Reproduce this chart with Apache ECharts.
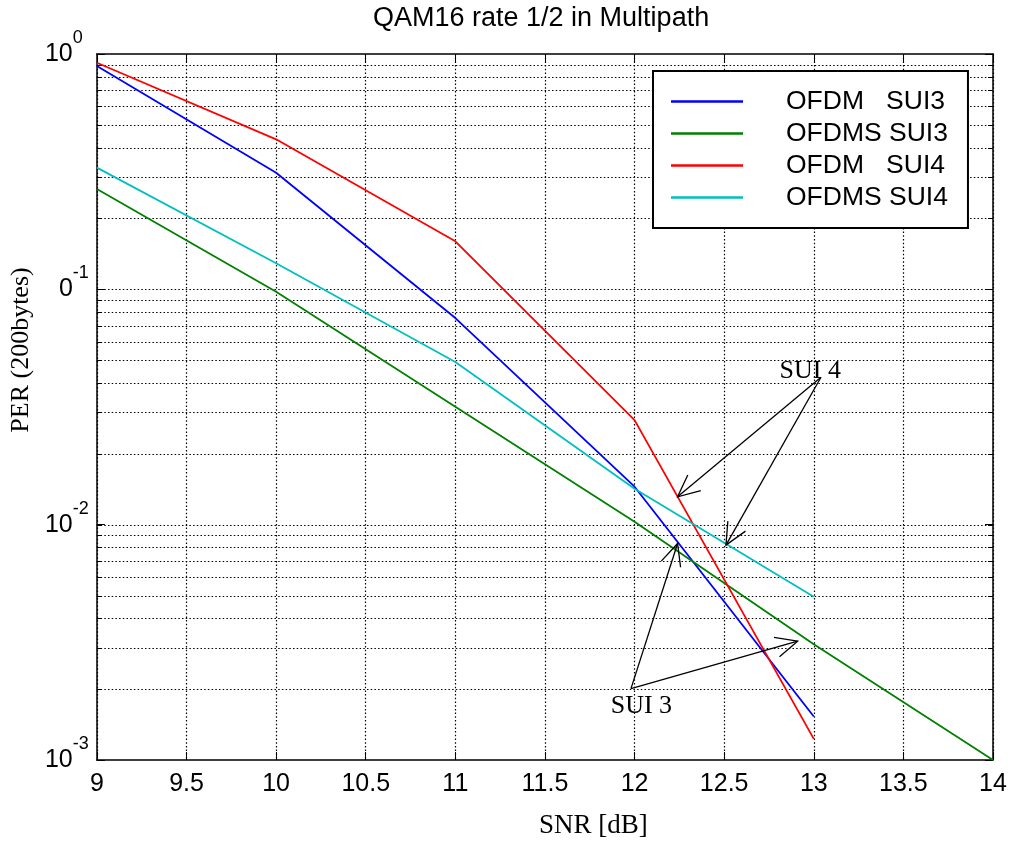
<!DOCTYPE html>
<html><head><meta charset="utf-8">
<script src="https://cdn.jsdelivr.net/npm/echarts@6/dist/echarts.min.js"></script>
<style>html,body{margin:0;padding:0;background:#fff}#c{width:1011px;height:846px}</style>
</head><body><div id="c"></div>
<script>
// ---- data ----
const snr = [9, 10, 11, 12, 13];
const snrLong = [9, 10, 11, 12, 13, 14];
const perOfdmSui3 = [0.889, 0.313, 0.0755, 0.0145, 0.00153];
const perOfdmsSui3 = [0.267, 0.0977, 0.0317, 0.0103, 0.0031, 0.001];
const perOfdmSui4 = [0.918, 0.434, 0.160, 0.0278, 0.00123];
const perOfdmsSui4 = [0.329, 0.129, 0.0491, 0.0142, 0.00494];
const seriesNames = ['OFDM   SUI3', 'OFDMS SUI3', 'OFDM   SUI4', 'OFDMS SUI4'];
const xTickValues = [9, 9.5, 10, 10.5, 11, 11.5, 12, 12.5, 13, 13.5, 14];
const xTickLabels = ['9', '9.5', '10', '10.5', '11', '11.5', '12', '12.5', '13', '13.5', '14'];
const yTickValues = [0.001, 0.01, 0.1, 1];
const yTickLabels = ['10^-3', '10^-2', '0^-1', '10^0'];
const yGridValues = [0.002, 0.003, 0.004, 0.005, 0.006, 0.007, 0.008, 0.009,
  0.01, 0.02, 0.03, 0.04, 0.05, 0.06, 0.07, 0.08, 0.09,
  0.1, 0.2, 0.3, 0.4, 0.5, 0.6, 0.7, 0.8, 0.9];
// annotation arrows: [fromX, fromY, toX, toY]
const arrows = [
  [13.04, 0.0423, 12.24, 0.01314],
  [13.04, 0.0423, 12.51, 0.00819],
  [11.98, 0.00201, 12.24, 0.00832],
  [11.98, 0.00201, 12.91, 0.0032]
];
const noteTexts = ['SUI 4', 'SUI 3'];
const notePositions = [[12.98, 0.045], [12.038, 0.001694]];

// ---- chart ----
const SANS = '"Liberation Sans", Arial, sans-serif';
const SERIF = '"Liberation Serif", "Times New Roman", serif';
const colors = ['#0000ff', '#008000', '#ff0000', '#00bfbf'];
const dotted = [1.5, 2.2];
function pairs(xs, ys) { return ys.map((y, i) => [xs[i], y]); }
function crisp(v) { return Math.round(v) + 0.5; }

const chart = echarts.init(document.getElementById('c'), null, {renderer: 'canvas'});
const lineSeries = [
  [snr, perOfdmSui3], [snrLong, perOfdmsSui3], [snr, perOfdmSui4], [snr, perOfdmsSui4]
].map((d, i) => ({
  name: seriesNames[i], type: 'line', data: pairs(d[0], d[1]),
  symbol: 'none', showSymbol: false, z: 3, color: colors[i],
  lineStyle: {color: colors[i], width: 1.8}
}));

const option = {
  animation: false,
  backgroundColor: '#fff',
  title: {
    text: 'QAM16 rate 1/2 in Multipath', left: 373, top: 5, padding: 0,
    textStyle: {fontFamily: SANS, fontSize: 27, fontWeight: 'normal', color: '#000'}
  },
  legend: {
    data: seriesNames, orient: 'vertical', left: 653, top: 71, icon: 'rect',
    padding: [17, 20, 17, 18], itemGap: 5, itemWidth: 72, itemHeight: 2.5,
    borderColor: '#000', borderWidth: 2, borderRadius: 0, backgroundColor: '#fff',
    textStyle: {fontFamily: SANS, fontSize: 26.5, color: '#000', lineHeight: 25, padding: [0, 0, 0, 38]}
  },
  grid: {left: 96, right: 18, top: 54, bottom: 86, containLabel: false},
  xAxis: [{
    type: 'value', min: 9, max: 14, interval: 0.5, position: 'bottom',
    axisLine: {onZero: false, lineStyle: {color: '#000', width: 1.5}},
    axisTick: {inside: true, length: 8, lineStyle: {color: '#000'}},
    axisLabel: {margin: 12, fontSize: 25, fontFamily: SANS, color: '#000',
      formatter: v => { const i = xTickValues.findIndex(t => Math.abs(t - v) < 1e-6); return i >= 0 ? xTickLabels[i] : ''; }},
    splitLine: {show: true, lineStyle: {color: '#000', width: 1.2, type: dotted}},
    name: 'SNR [dB]', nameLocation: 'middle', nameGap: 52,
    nameTextStyle: {fontFamily: SERIF, fontSize: 27, color: '#000', padding: [0, 0, 0, 97]}
  }, {
    type: 'value', min: 9, max: 14, interval: 0.5, position: 'top',
    axisLine: {onZero: false, lineStyle: {color: '#000', width: 1.5}},
    axisTick: {inside: true, length: 8, lineStyle: {color: '#000'}},
    axisLabel: {show: false}, splitLine: {show: false}
  }],
  yAxis: [{
    type: 'log', logBase: 10, min: 0.001, max: 1, position: 'left',
    axisLine: {onZero: false, lineStyle: {color: '#000', width: 1.5}},
    axisTick: {inside: true, length: 8, lineStyle: {color: '#000'}},
    axisLabel: {
      margin: 52, align: 'left', color: '#000',
      formatter: v => {
        const i = yTickValues.findIndex(t => Math.abs(Math.log10(t) - Math.log10(v)) < 1e-6);
        if (i < 0) return '';
        const parts = yTickLabels[i].split('^');
        const bs = parts[0].length === 1 ? 'b1' : 'b';
        return '{' + bs + '|' + parts[0] + '}{s|' + parts[1] + '}';
      },
      rich: {
        b: {fontFamily: SANS, fontSize: 25, color: '#000', lineHeight: 50},
        b1: {fontFamily: SANS, fontSize: 25, color: '#000', lineHeight: 50, padding: [0, 0, 0, 14]},
        s: {fontFamily: SANS, fontSize: 18, color: '#000', lineHeight: 18, verticalAlign: 'top'}
      }
    },
    splitLine: {show: false},
    name: 'PER (200bytes)', nameLocation: 'middle', nameRotate: 90, nameGap: 51,
    nameTextStyle: {fontFamily: SERIF, fontSize: 26, color: '#000', padding: [0, 0, 0, 114]}
  }, {
    type: 'log', logBase: 10, min: 0.001, max: 1, position: 'right',
    axisLine: {onZero: false, lineStyle: {color: '#000', width: 1.5}},
    axisTick: {inside: true, length: 8, lineStyle: {color: '#000'}},
    axisLabel: {show: false}, splitLine: {show: false}
  }],
  series: [{
    type: 'custom', name: 'grid', silent: true, z: 1,
    data: yGridValues.map(v => [9, v, 14]),
    encode: {x: [0, 2], y: 1},
    renderItem: (params, api) => {
      const v = api.value(1);
      const a = api.coord([api.value(0), v]);
      const b = api.coord([api.value(2), v]);
      const y = crisp(a[1]);
      return {type: 'group', children: [
        {type: 'line', shape: {x1: a[0], y1: y, x2: b[0], y2: y}, style: {stroke: '#000', lineWidth: 1.2, lineDash: dotted}},
        {type: 'line', shape: {x1: a[0], y1: y, x2: a[0] + 5, y2: y}, style: {stroke: '#000', lineWidth: 1}},
        {type: 'line', shape: {x1: b[0] - 5, y1: y, x2: b[0], y2: y}, style: {stroke: '#000', lineWidth: 1}}
      ]};
    }
  }].concat(lineSeries).concat([{
    type: 'custom', name: 'arrows', silent: true, z: 4, clip: false,
    data: arrows, encode: {x: [0, 2], y: [1, 3]},
    renderItem: (params, api) => {
      const p0 = api.coord([api.value(0), api.value(1)]);
      const p1 = api.coord([api.value(2), api.value(3)]);
      const ang = Math.atan2(p0[1] - p1[1], p0[0] - p1[0]);
      const L = 24, h = 25 * Math.PI / 180;
      const w1 = [p1[0] + L * Math.cos(ang + h), p1[1] + L * Math.sin(ang + h)];
      const w2 = [p1[0] + L * Math.cos(ang - h), p1[1] + L * Math.sin(ang - h)];
      return {type: 'group', children: [
        {type: 'line', shape: {x1: p0[0], y1: p0[1], x2: p1[0], y2: p1[1]}, style: {stroke: '#000', lineWidth: 1.3}},
        {type: 'polyline', shape: {points: [w1, p1, w2]}, style: {stroke: '#000', lineWidth: 1.3, fill: null}}
      ]};
    }
  }, {
    type: 'custom', name: 'notes', silent: true, z: 4, clip: false,
    data: notePositions, encode: {x: 0, y: 1},
    renderItem: (params, api) => {
      const p = api.coord([api.value(0), api.value(1)]);
      return {type: 'text', x: p[0], y: p[1], style: {
        text: noteTexts[params.dataIndex], fill: '#000',
        fontFamily: 'Liberation Serif', fontSize: 26,
        textAlign: 'center', textVerticalAlign: 'middle', align: 'center', verticalAlign: 'middle'
      }};
    }
  }])
};
chart.setOption(option);
</script>
</body></html>
